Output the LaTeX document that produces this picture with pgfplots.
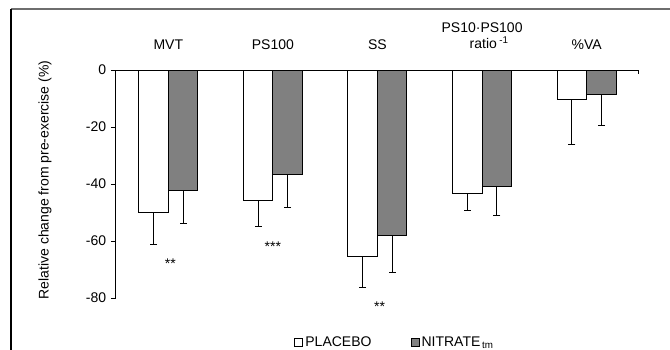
\documentclass[border=0pt]{standalone}
\usepackage{pgfplots}
\pgfplotsset{compat=1.18}
\usepackage{fontspec}
\setmainfont{Liberation Sans}
\definecolor{nitr}{RGB}{128,128,128}
\definecolor{framegray}{RGB}{110,110,110}
\begin{document}
\fontsize{14}{16}\selectfont
\begin{tikzpicture}
\useasboundingbox (0pt,0pt) rectangle (670pt,-350pt);
\node[rotate=90] at (45pt,-180pt) {Relative change from pre-exercise (\%)};
\begin{axis}[
  name=ax,
  at={(116pt,-298pt)}, anchor=south west,
  scale only axis, width=523pt, height=228pt,
  xmin=-0.5, xmax=4.5, ymin=-80, ymax=0,
  axis x line*=top, axis y line*=left,
  axis line style={line width=1pt, -},
  xtick=\empty,
  ytick={0,-20,-40,-60,-80},
  tick align=outside, major tick length=5pt,
  tick style={line width=1pt, black},
  /pgf/number format/assume math mode=true,
  yticklabel style={font=\fontsize{14}{16}\selectfont},
  ybar=0pt, bar width=29.5pt,
  clip=false,
  legend columns=2,
  legend style={draw=none, fill=none, at={(0.335,-0.197)}, anchor=west,
    font=\fontsize{14}{16}\selectfont,
    /tikz/every even column/.append style={column sep=37pt}},
  legend image code/.code={\draw[#1, line width=1pt] (0pt,-4pt) rectangle (8pt,4pt);},
  error bars/error bar style={line width=1pt, black},
  error bars/error mark options={line width=1pt, mark size=3.5pt, black, rotate=90},
]
\addplot[draw=black, fill=white, line width=1pt,
  error bars/.cd, y dir=minus, y explicit]
  coordinates {(0,-50.0) -= (0,11.4) (1,-45.8) -= (0,9.2) (2,-65.6) -= (0,10.6) (3,-43.5) -= (0,5.7) (4,-10.3) -= (0,15.7)};
\addlegendentry{PLACEBO}
\addplot[draw=black, fill=nitr, line width=1pt,
  error bars/.cd, y dir=minus, y explicit]
  coordinates {(0,-42.3) -= (0,11.7) (1,-36.6) -= (0,11.7) (2,-58.2) -= (0,12.7) (3,-40.9) -= (0,10.1) (4,-8.7) -= (0,10.9)};
\addlegendentry{NITRATE\textsubscript{\,tm}}
\draw[line width=1pt] (axis cs:4.5,0) -- ++(0pt,-4pt);
\draw[framegray, line width=1.5pt] ([xshift=-105pt,yshift=61pt]axis cs:-0.5,0) -- ([xshift=40pt,yshift=61pt]axis cs:4.5,0);
\draw[black, line width=1.5pt] ([xshift=-105pt,yshift=61pt]axis cs:-0.5,0) -- ([xshift=-105pt,yshift=-60pt]axis cs:-0.5,-80);
\node at (axis cs:0,0) [yshift=25pt] {MVT};
\node at (axis cs:1,0) [yshift=25pt] {PS100};
\node at (axis cs:2,0) [yshift=25pt] {SS};
\node[align=center] at (axis cs:3,0) [yshift=34pt] {PS10·PS100\\[0pt]\hspace*{1em}ratio\,\textsuperscript{-1}};
\node at (axis cs:4,0) [yshift=25pt] {\%VA};
\node at (axis cs:0.02,-68) {**};
\node at (axis cs:1.0,-62) {***};
\node at (axis cs:2.02,-83) {**};
\end{axis}
\end{tikzpicture}
\end{document}
